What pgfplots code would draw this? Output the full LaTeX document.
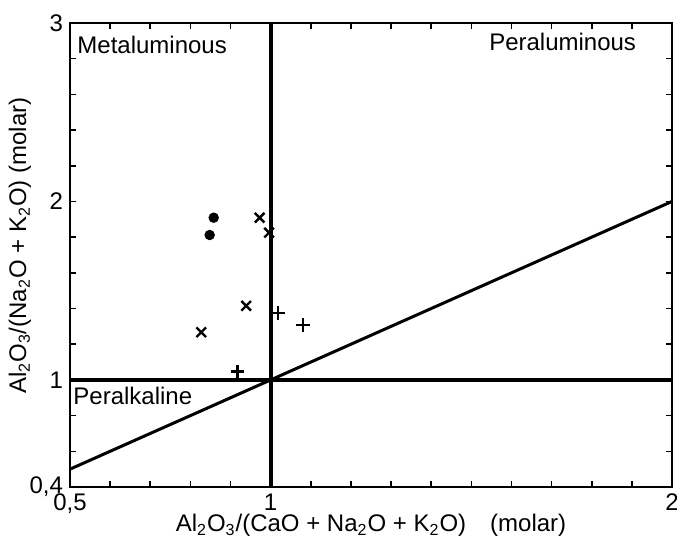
\documentclass[border=0pt]{standalone}
\usepackage{fontspec}
\setmainfont{Liberation Sans}
\usepackage{pgfplots}
\pgfplotsset{compat=1.18}
\begin{document}
\begin{tikzpicture}
\begin{axis}[
  name=ax, scale only axis, width=301pt, height=232pt,
  xmin=0.5, xmax=2, ymin=0.4, ymax=3,
  axis line style={line width=1.3pt},
  xtick={0.5,1,2}, xticklabels={{0,5},1,2},
  ytick={0.4,1,2,3}, yticklabels={{0,4},1,2,3},
  minor xtick={0.6,0.7,...,1.95}, minor ytick={0.6,0.8,...,2.9},
  tick align=inside, major tick length=3pt, minor tick length=3pt,
  tick style={line width=0.8pt,black},
  /pgf/number format/assume math mode=true,
  font=\fontsize{12}{14}\selectfont,
  ticklabel style={font=\fontsize{12}{14}\selectfont},
  xlabel={Al\textsubscript{2}O\textsubscript{3}/(CaO + Na\textsubscript{2}O + K\textsubscript{2}O)\quad(molar)},
  ylabel={Al\textsubscript{2}O\textsubscript{3}/(Na\textsubscript{2}O + K\textsubscript{2}O) (molar)},
  x label style={at={(axis description cs:0.5,-0.083)}, anchor=center},
  y label style={at={(axis description cs:-0.083,0.52)}, anchor=center},
]
\addplot[black, line width=2pt] coordinates {(1,0.4) (1,3)};
\addplot[black, line width=2pt] coordinates {(0.5,1) (2,1)};
\addplot[black, line width=1.5pt] coordinates {(0.5,0.5) (2,2)};
\addplot[only marks, mark=*, mark size=2.4pt, black] coordinates {(0.858,1.909) (0.848,1.812)};
\addplot[only marks, mark=x, mark size=3.4pt, black, line width=1.2pt] coordinates {(0.9725,1.909) (0.996,1.825) (0.939,1.415) (0.827,1.267)};
\addplot[only marks, mark=+, mark size=3.4pt, black, line width=1.2pt] coordinates {(0.917,1.047) (1.019,1.374) (1.080,1.308)};
\node[anchor=west, inner sep=0pt] at (axis cs:0.5175,2.877) {Metaluminous};
\node[anchor=center, inner sep=0pt] at (axis cs:1.7275,2.894) {Peraluminous};
\node[anchor=west, inner sep=0pt] at (axis cs:0.5075,0.91) {Peralkaline};
\end{axis}
\pgfresetboundingbox
\path ([xshift=-35pt,yshift=-28pt]ax.south west) rectangle ([xshift=2.5pt,yshift=11.5pt]ax.north east);
\end{tikzpicture}
\end{document}
